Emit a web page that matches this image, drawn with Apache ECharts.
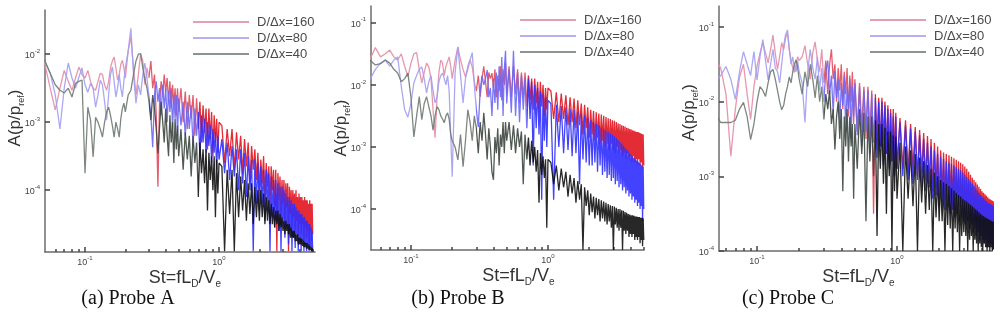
<!DOCTYPE html>
<html>
<head>
<meta charset="utf-8">
<script src="https://cdn.jsdelivr.net/npm/echarts@6/dist/echarts.min.js"></script>
<style>
  html, body { margin: 0; padding: 0; background: #fff; }
  #chart { width: 1000px; height: 314px; }
</style>
</head>
<body>
<div id="chart"></div>
<script>
// Strouhal number bins, shared by every spectrum
var st = [
  0.05,0.055,0.06,0.065,0.07,0.075,0.08,0.085,0.09,0.095,
  0.1,0.105,0.11,0.115,0.12,0.125,0.13,0.135,0.14,0.145,
  0.15,0.155,0.16,0.165,0.17,0.175,0.18,0.185,0.19,0.195,0.2,
  0.21,0.22,0.23,0.24,0.25,0.26,0.27,0.28,0.29,0.3,
  0.31,0.32,0.33,0.34,0.35,0.36,0.37,0.38,0.39,0.4,
  0.41,0.42,0.43,0.44,0.45,0.46,0.47,0.48,0.49,0.5,
  0.52,0.54,0.56,0.58,0.6,0.62,0.64,0.66,0.68,0.7,
  0.72,0.74,0.76,0.78,0.8,0.82,0.84,0.86,0.88,0.9,
  0.92,0.94,0.96,0.98,1.0,
  1.05,1.1,1.15,1.2,1.25,1.3,1.35,1.4,1.45,1.5,
  1.55,1.6,1.65,1.7,1.75,1.8,1.85,1.9,1.95,2.0,
  2.05,2.1,2.15,2.2,2.25,2.3,2.35,2.4,2.45,2.5,
  2.55,2.6,2.65,2.7,2.75,2.8,2.85,2.9,2.95,3.0,
  3.05,3.1,3.15,3.2,3.25,3.3,3.35,3.4,3.45,3.5,
  3.55,3.6,3.65,3.7,3.75,3.8,3.85,3.9,3.95,4.0,
  4.05,4.1,4.15,4.2,4.25,4.3,4.35,4.4,4.45,4.5,
  4.55,4.6,4.65,4.7,4.75,4.8,4.85,4.9,4.95,5.0
];

// log10 of A(p/p_ref)

// (a) Probe A
var probeA_160 = [
  -2.13,-2.5,-2.82,-2.5,-2.24,-2.4,-2.53,-2.35,-2.19,-2.3,
  -2.35,-2.24,-2.4,-2.5,-2.53,-2.4,-2.28,-2.3,-2.45,-2.53,
  -2.4,-2.2,-2.1,-2.04,-2.2,-2.38,-2.3,-2.15,-2.09,-2.2,-2.35,
  -1.95,-1.75,-2.2,-2.6,-2.3,-2.0,-2.1,-2.45,-2.2,-2.35,
  -2.1,-2.5,-2.3,-2.9,-3.95,-2.7,-2.4,-2.6,-2.3,-2.55,
  -2.35,-2.7,-2.4,-2.8,-2.45,-2.75,-2.5,-2.9,-2.5,-2.85,
  -2.5,-3.0,-2.55,-3.1,-2.6,-2.95,-2.6,-3.2,-2.65,-3.1,
  -2.7,-3.3,-2.75,-3.15,-2.8,-3.4,-2.8,-3.25,-2.85,-3.5,
  -2.9,-3.3,-2.95,-3.45,-3.0,
  -3.05,-3.6,-3.1,-3.5,-3.1,-3.7,-3.15,-3.55,-3.2,-3.75,
  -3.25,-3.65,-3.3,-3.9,-3.35,-3.7,-3.4,-3.85,-3.45,-4.0,
  -3.55,-3.9,-3.5,-4.1,-3.6,-3.95,-3.65,-4.2,-3.65,-4.0,
  -3.7,-4.3,-3.7,-4.9,-3.75,-4.15,-3.8,-4.4,-3.85,-4.2,
  -3.85,-4.5,-3.9,-4.25,-3.9,-4.9,-3.95,-4.35,-4.0,-4.55,
  -4.0,-4.4,-4.05,-4.6,-4.0,-4.45,-4.1,-4.7,-4.05,-4.5,
  -4.1,-4.65,-4.1,-4.5,-4.15,-4.8,-4.1,-4.55,-4.15,-4.7,
  -4.15,-4.6,-4.2,-4.85,-4.15,-4.6,-4.2,-4.75,-4.2,-4.65
];
var probeA_80 = [
  -2.1,-2.28,-2.6,-3.1,-2.5,-2.13,-2.35,-2.5,-2.34,-2.2,
  -2.45,-2.56,-2.43,-2.5,-2.78,-2.6,-2.38,-2.45,-2.7,-2.97,
  -2.6,-2.3,-2.19,-2.4,-2.63,-2.5,-2.3,-2.5,-2.63,-2.4,-2.2,
  -1.95,-1.62,-2.28,-2.72,-2.45,-2.6,-2.3,-2.13,-2.35,-2.63,
  -2.9,-3.37,-2.6,-2.4,-2.7,-2.5,-2.9,-2.45,-2.8,-2.5,
  -3.0,-2.55,-2.85,-2.5,-3.1,-2.6,-2.95,-2.6,-3.2,-2.65,
  -3.05,-2.7,-3.2,-2.7,-3.1,-2.75,-3.35,-2.8,-3.2,-2.85,
  -3.5,-2.9,-3.3,-2.95,-3.45,-3.0,-3.35,-3.05,-3.6,-3.1,
  -3.45,-3.15,-3.7,-3.2,-3.55,
  -3.25,-3.75,-3.3,-3.85,-3.35,-3.8,-3.4,-4.0,-3.4,-3.9,
  -3.45,-4.1,-3.5,-4.0,-3.55,-4.9,-3.55,-4.2,-3.6,-4.3,
  -3.65,-4.2,-3.7,-4.45,-3.7,-4.3,-3.75,-4.9,-3.8,-4.4,
  -3.85,-4.55,-3.85,-4.4,-3.9,-4.6,-3.95,-4.9,-3.95,-4.5,
  -4.0,-4.7,-4.05,-4.55,-4.1,-4.8,-4.1,-4.6,-4.15,-4.9,
  -4.2,-4.7,-4.2,-4.85,-4.25,-4.65,-4.3,-4.9,-4.3,-4.75,
  -4.35,-4.9,-4.35,-4.75,-4.4,-4.9,-4.4,-4.8,-4.45,-4.9,
  -4.45,-4.8,-4.5,-4.9,-4.5,-4.85,-4.55,-4.9,-4.6,-4.9
];
var probeA_40 = [
  -2.09,-2.28,-2.45,-2.53,-2.57,-2.5,-2.63,-2.43,-2.4,-2.38,
  -3.75,-2.78,-2.97,-3.51,-2.93,-3.0,-3.1,-3.22,-3.0,-2.85,
  -2.78,-2.9,-3.05,-3.22,-3.0,-3.1,-3.22,-2.95,-2.8,-2.72,-2.85,
  -2.6,-2.53,-2.3,-2.1,-2.0,-1.99,-2.2,-2.38,-2.5,-2.7,
  -2.97,-2.6,-2.8,-3.1,-3.46,-3.07,-2.7,-3.0,-3.3,-2.8,
  -3.2,-3.5,-2.9,-3.3,-3.0,-3.6,-2.95,-3.4,-3.05,-3.5,
  -3.1,-3.7,-3.15,-3.55,-3.2,-3.8,-3.2,-3.6,-3.3,-4.1,
  -3.3,-3.75,-3.4,-3.9,-3.4,-4.3,-3.45,-3.85,-3.5,-4.0,
  -3.5,-4.4,-3.55,-4.05,-3.6,
  -3.65,-4.9,-3.7,-4.35,-3.7,-4.9,-3.75,-4.4,-3.8,-4.3,
  -3.85,-4.45,-3.9,-4.35,-3.9,-4.5,-3.95,-4.4,-4.0,-4.45,
  -4.0,-4.4,-4.05,-4.5,-4.1,-4.45,-4.15,-4.5,-4.2,-4.5,
  -4.25,-4.55,-4.3,-4.5,-4.3,-4.6,-4.35,-4.55,-4.4,-4.6,
  -4.45,-4.65,-4.45,-4.6,-4.5,-4.65,-4.5,-4.7,-4.55,-4.7,
  -4.6,-4.7,-4.6,-4.75,-4.65,-4.75,-4.65,-4.8,-4.7,-4.8,
  -4.7,-4.8,-4.72,-4.82,-4.74,-4.84,-4.76,-4.84,-4.78,-4.86,
  -4.78,-4.86,-4.8,-4.88,-4.82,-4.88,-4.84,-4.9,-4.85,-4.9
];

// (b) Probe B
var probeB_160 = [
  -1.6,-1.4,-1.55,-1.5,-1.44,-1.55,-1.6,-1.5,-1.7,-1.87,
  -1.65,-1.5,-1.48,-1.75,-1.97,-1.8,-1.65,-1.71,-1.9,-2.4,
  -2.85,-2.2,-1.8,-1.6,-1.65,-1.85,-1.7,-1.71,-1.55,-1.7,-1.9,
  -1.6,-1.39,-1.6,-1.75,-1.87,-1.75,-1.6,-1.71,-1.95,-2.1,
  -1.85,-2.19,-1.9,-1.7,-1.95,-2.2,-1.8,-1.9,-1.81,-2.05,
  -1.75,-2.2,-1.85,-2.1,-1.7,-2.25,-1.75,-2.0,-1.65,-2.15,
  -1.7,-2.2,-1.7,-2.15,-1.75,-2.3,-1.8,-2.2,-1.8,-2.35,
  -1.85,-2.25,-1.9,-2.4,-1.9,-2.3,-1.95,-2.45,-1.95,-2.35,
  -2.0,-2.5,-2.05,-2.4,-2.05,
  -2.1,-2.55,-2.12,-2.6,-2.14,-2.55,-2.17,-2.65,-2.2,-2.6,
  -2.22,-2.7,-2.25,-2.65,-2.3,-2.8,-2.32,-2.7,-2.36,-2.85,
  -2.4,-2.8,-2.42,-2.9,-2.44,-2.85,-2.46,-2.95,-2.48,-2.9,
  -2.5,-3.0,-2.52,-2.95,-2.54,-3.05,-2.55,-2.95,-2.57,-3.05,
  -2.58,-3.1,-2.6,-3.0,-2.62,-3.1,-2.63,-3.05,-2.65,-3.15,
  -2.66,-3.1,-2.67,-3.2,-2.69,-3.1,-2.7,-3.2,-2.71,-3.15,
  -2.72,-3.25,-2.73,-3.15,-2.74,-3.25,-2.75,-3.2,-2.76,-3.3,
  -2.76,-3.2,-2.77,-3.3,-2.78,-3.25,-2.79,-3.35,-2.8,-3.3
];
var probeB_80 = [
  -1.92,-1.75,-1.65,-1.6,-1.7,-1.6,-1.55,-2.03,-2.4,-2.52,
  -2.3,-1.97,-1.85,-1.75,-1.71,-1.9,-2.13,-1.95,-1.85,-2.1,
  -2.29,-2.2,-1.95,-1.85,-1.81,-1.9,-2.0,-1.85,-2.1,-2.8,-3.48,
  -1.8,-1.39,-1.85,-2.29,-1.9,-1.7,-1.6,-1.48,-2.0,-2.4,
  -2.68,-2.1,-1.85,-2.0,-1.9,-1.76,-2.2,-2.05,-2.5,-1.9,
  -2.29,-1.8,-2.4,-1.7,-2.2,-1.55,-2.5,-1.75,-1.45,-2.3,
  -1.75,-2.45,-1.45,-2.5,-1.8,-2.6,-1.85,-2.4,-1.9,-2.7,
  -1.9,-2.55,-1.95,-3.3,-2.0,-2.7,-2.05,-2.8,-2.1,-3.85,
  -2.15,-2.9,-2.2,-3.0,-2.25,
  -2.3,-3.85,-2.32,-3.0,-2.34,-3.1,-2.36,-3.05,-2.38,-3.15,
  -2.4,-3.1,-2.43,-3.6,-2.46,-3.2,-2.5,-3.25,-2.53,-3.3,
  -2.57,-3.3,-2.6,-3.25,-2.63,-3.4,-2.66,-3.3,-2.69,-3.45,
  -2.72,-3.4,-2.74,-3.5,-2.76,-3.45,-2.78,-3.55,-2.8,-3.5,
  -2.83,-3.6,-2.86,-3.55,-2.89,-3.65,-2.92,-3.6,-2.95,-3.7,
  -2.98,-3.65,-3.01,-3.75,-3.04,-3.7,-3.07,-3.8,-3.1,-3.75,
  -3.13,-3.85,-3.15,-3.8,-3.18,-3.9,-3.2,-3.85,-3.22,-3.95,
  -3.24,-3.9,-3.26,-4.0,-3.28,-3.95,-3.3,-4.2,-3.32,-4.0
];
var probeB_40 = [
  -1.6,-1.68,-1.66,-1.6,-1.65,-1.75,-1.81,-1.95,-1.9,-1.81,
  -2.2,-2.84,-2.5,-2.19,-2.56,-2.3,-2.19,-2.35,-2.5,-2.73,
  -2.5,-2.35,-2.4,-2.5,-2.55,-2.61,-2.5,-2.45,-2.55,-2.8,-2.9,
  -3.0,-3.21,-2.8,-3.32,-2.9,-2.4,-2.6,-2.9,-2.5,-2.7,
  -3.1,-2.6,-2.9,-2.45,-2.8,-3.2,-2.7,-3.0,-3.4,-3.53,
  -2.84,-3.1,-2.7,-3.3,-2.8,-3.0,-2.6,-3.1,-2.6,-2.9,
  -2.6,-3.05,-2.65,-3.1,-2.7,-3.0,-2.75,-3.6,-2.8,-3.2,
  -2.85,-3.3,-2.9,-3.25,-3.0,-3.4,-3.05,-3.9,-3.1,-3.45,
  -3.15,-3.5,-3.2,-4.3,-3.2,
  -3.25,-3.6,-3.3,-3.7,-3.35,-3.65,-3.4,-3.8,-3.45,-3.75,
  -3.5,-3.9,-3.55,-3.85,-3.6,-4.66,-3.65,-3.95,-3.7,-4.1,
  -3.75,-4.05,-3.8,-4.15,-3.82,-4.1,-3.84,-4.2,-3.86,-4.15,
  -3.88,-4.2,-3.9,-4.25,-3.92,-4.2,-3.94,-4.3,-3.95,-4.66,
  -3.96,-4.25,-3.98,-4.3,-4.0,-4.35,-4.0,-4.3,-4.02,-4.66,
  -4.03,-4.35,-4.05,-4.4,-4.06,-4.35,-4.08,-4.45,-4.09,-4.4,
  -4.1,-4.45,-4.1,-4.4,-4.11,-4.5,-4.12,-4.45,-4.12,-4.5,
  -4.13,-4.45,-4.13,-4.55,-4.14,-4.5,-4.14,-4.6,-4.15,-4.5
];

// (c) Probe C
var probeC_160 = [
  -1.44,-1.55,-1.9,-2.73,-2.1,-1.67,-1.5,-1.9,-2.24,-1.8,
  -1.53,-1.35,-1.21,-1.35,-1.48,-1.3,-1.11,-1.35,-1.57,-1.4,
  -1.21,-1.3,-1.15,-1.08,-1.3,-1.45,-1.55,-1.61,-1.5,-1.4,-1.45,
  -1.4,-1.25,-1.5,-1.7,-1.35,-1.2,-1.44,-1.6,-1.3,-1.75,
  -1.45,-1.9,-1.5,-1.3,-1.7,-1.5,-2.0,-1.55,-1.85,-1.5,
  -2.1,-1.6,-1.9,-1.55,-2.2,-1.65,-2.0,-1.6,-2.3,-1.7,
  -2.4,-1.75,-2.35,-1.8,-2.5,-1.8,-2.45,-1.85,-3.5,-1.9,
  -2.55,-1.95,-2.6,-1.95,-2.5,-2.0,-2.7,-2.05,-2.65,-2.1,
  -2.8,-2.1,-2.75,-2.15,-2.9,
  -2.22,-2.9,-2.25,-2.95,-2.3,-2.9,-2.34,-3.0,-2.38,-2.95,
  -2.42,-3.05,-2.46,-3.1,-2.5,-3.2,-2.55,-3.15,-2.6,-3.3,
  -2.65,-3.25,-2.68,-3.3,-2.7,-3.35,-2.72,-3.3,-2.74,-3.4,
  -2.76,-3.35,-2.78,-3.45,-2.8,-3.4,-2.82,-3.5,-2.84,-3.45,
  -2.87,-3.5,-2.9,-3.55,-2.94,-3.5,-2.98,-3.6,-3.02,-3.55,
  -3.05,-3.6,-3.08,-3.65,-3.11,-3.6,-3.14,-3.7,-3.17,-3.65,
  -3.2,-3.7,-3.22,-3.75,-3.24,-3.7,-3.26,-3.8,-3.28,-3.75,
  -3.3,-3.8,-3.31,-3.75,-3.32,-3.85,-3.33,-3.8,-3.35,-3.85
];
var probeC_80 = [
  -1.75,-1.65,-1.53,-1.7,-1.97,-1.6,-1.33,-1.5,-1.65,-1.33,
  -1.71,-1.4,-1.17,-1.45,-1.71,-1.5,-1.3,-1.55,-1.6,-1.75,
  -1.5,-1.25,-1.1,-1.04,-1.3,-1.5,-1.4,-1.55,-1.6,-1.45,-1.6,
  -1.75,-2.28,-1.6,-1.3,-1.55,-1.7,-1.4,-1.85,-1.55,-2.0,
  -1.6,-1.45,-1.9,-1.65,-2.15,-1.6,-1.95,-1.7,-2.3,-1.75,
  -2.05,-1.65,-2.4,-1.8,-2.1,-1.7,-2.5,-1.8,-2.2,-1.75,
  -2.45,-1.8,-2.6,-1.85,-2.4,-1.85,-2.7,-1.9,-2.55,-1.95,
  -2.75,-2.0,-2.6,-2.0,-2.85,-2.05,-2.7,-2.1,-2.9,-2.15,
  -2.8,-2.2,-3.0,-2.2,-2.9,
  -2.28,-3.0,-2.32,-3.05,-2.36,-3.1,-2.4,-3.05,-2.45,-3.15,
  -2.5,-3.2,-2.55,-3.15,-2.6,-3.3,-2.65,-3.25,-2.7,-3.4,
  -2.74,-3.35,-2.77,-3.45,-2.8,-3.4,-2.82,-3.5,-2.84,-3.45,
  -2.86,-3.55,-2.88,-3.5,-2.9,-3.6,-2.92,-3.55,-2.95,-3.6,
  -2.98,-3.65,-3.01,-3.6,-3.04,-3.7,-3.07,-3.65,-3.1,-3.75,
  -3.13,-3.7,-3.16,-3.8,-3.19,-3.75,-3.22,-3.85,-3.25,-3.8,
  -3.27,-3.85,-3.29,-3.9,-3.31,-3.85,-3.33,-3.95,-3.35,-3.9,
  -3.36,-3.95,-3.37,-3.9,-3.38,-3.98,-3.39,-3.95,-3.4,-3.98
];
var probeC_40 = [
  -2.15,-2.28,-2.28,-2.28,-2.25,-2.1,-2.01,-2.2,-2.51,-2.3,
  -2.0,-1.8,-1.85,-1.93,-1.75,-1.6,-1.57,-1.7,-1.85,-2.0,
  -2.11,-2.05,-1.9,-1.8,-1.67,-1.75,-1.6,-1.5,-1.44,-1.55,-1.7,
  -1.9,-1.6,-1.8,-1.5,-1.7,-1.95,-1.65,-2.0,-1.8,-2.24,
  -1.9,-2.1,-1.85,-2.3,-2.1,-2.64,-2.2,-2.0,-2.5,-2.1,
  -3.2,-2.2,-2.6,-2.1,-2.8,-2.2,-2.6,-2.3,-3.3,-2.3,
  -2.9,-2.1,-2.7,-2.15,-3.6,-2.2,-2.8,-2.2,-3.0,-2.25,
  -3.8,-2.3,-2.9,-2.3,-3.1,-2.35,-3.5,-2.4,-3.0,-2.4,
  -4.0,-2.45,-3.2,-2.47,-3.3,
  -2.55,-4.0,-2.6,-3.3,-2.65,-3.4,-2.7,-4.0,-2.75,-3.35,
  -2.8,-3.5,-2.85,-3.45,-2.9,-4.0,-2.95,-3.55,-3.0,-3.6,
  -3.05,-3.6,-3.08,-4.0,-3.1,-3.65,-3.13,-3.7,-3.16,-4.0,
  -3.19,-3.7,-3.22,-3.75,-3.25,-4.0,-3.27,-3.8,-3.3,-3.75,
  -3.32,-3.8,-3.34,-4.0,-3.36,-3.85,-3.38,-3.8,-3.4,-4.0,
  -3.42,-3.85,-3.44,-3.9,-3.46,-4.0,-3.48,-3.9,-3.5,-3.95,
  -3.52,-4.0,-3.53,-3.9,-3.55,-3.95,-3.56,-4.0,-3.57,-3.95,
  -3.58,-4.0,-3.59,-3.95,-3.6,-4.0,-3.61,-3.98,-3.61,-4.0
];

var seriesNames = ['D/\u0394x=160', 'D/\u0394x=80', 'D/\u0394x=40'];
var captions = ['(a) Probe A', '(b) Probe B', '(c) Probe C'];
var panels = [
  [probeA_160, probeA_80, probeA_40],
  [probeB_160, probeB_80, probeB_40],
  [probeC_160, probeC_80, probeC_40]
];
var xMajorTicks = [0.1, 1];
var xMinorTicks = [0.06, 0.07, 0.08, 0.09, 0.2, 0.3, 0.4, 0.5, 0.6, 0.7, 0.8, 0.9, 2, 3, 4, 5];
var yMajorTicks = [
  [1e-2, 1e-3, 1e-4],
  [1e-1, 1e-2, 1e-3, 1e-4],
  [1e-1, 1e-2, 1e-3, 1e-4]
];

// layout of the three panels
var grids = [
  { left: 45, top: 10, width: 270, height: 242 },
  { left: 371, top: 6, width: 273, height: 244 },
  { left: 719, top: 6, width: 273, height: 245 }
];
var xRange = [[0.0503, 5.2], [0.0511, 5.02], [0.0535, 4.77]];
var yRangeExp = [[-4.91, -1.35], [-4.66, -0.73], [-4.0, -0.72]];
var yNameShift = [26, 0, 32];
var xNameShift = [10, 22, 6];
var captionX = [128, 458, 788];
var legendPos = [[188, 9], [515, 7], [865, 7]];

// sparse low-St part of a trace looks faded, dense high-St part saturated
var colorSteps = [
  ['#e48ca4', '#e04a5c', '#e01420'],
  ['#a29ef2', '#6c66f6', '#2e2eff'],
  ['#6e7a72', '#3c4640', '#101010']
];
var legendColors = ['#e2a0b2', '#b4b0f2', '#8c948e'];

var font = 'Arial, "Liberation Sans", sans-serif';

var supLabel = function (v) {
  var e = Math.round(Math.log10(v));
  return '{b|10}{s|' + e + '}';
};
var supRich = {
  b: { fontSize: 9, color: '#444', fontFamily: font, lineHeight: 12, verticalAlign: 'bottom' },
  s: { fontSize: 6, color: '#444', fontFamily: font, lineHeight: 12, verticalAlign: 'top' }
};

var xAxes = [], yAxes = [], series = [], legends = [], graphics = [], visualMaps = [];

grids.forEach(function (g, p) {
  xAxes.push({
    type: 'log', gridIndex: p, position: 'bottom',
    min: xRange[p][0], max: xRange[p][1],
    axisLine: { lineStyle: { color: '#6c6c6c', width: 1.5 } },
    axisTick: { inside: true, length: 5, customValues: xMajorTicks, lineStyle: { color: '#444', width: 1.5 } },
    axisLabel: { customValues: xMajorTicks, formatter: supLabel, rich: supRich, margin: 3 },
    splitLine: { show: false },
    name: '{t|St=fL}{s|D}{t|/V}{s|e}',
    nameLocation: 'middle', nameGap: 17, nameMoveOverlap: false,
    nameTextStyle: {
      padding: [0, 0, 0, xNameShift[p]],
      rich: {
        t: { fontSize: 18, color: '#333', fontFamily: font, lineHeight: 20, verticalAlign: 'top' },
        s: { fontSize: 10, color: '#333', fontFamily: font, lineHeight: 20, verticalAlign: 'bottom' }
      }
    }
  });
  xAxes.push({
    type: 'log', gridIndex: p, position: 'bottom',
    min: xRange[p][0], max: xRange[p][1],
    axisLine: { show: false },
    axisTick: { inside: true, length: 3, customValues: xMinorTicks, lineStyle: { color: '#444', width: 1.5 } },
    axisLabel: { show: false },
    splitLine: { show: false }
  });
  yAxes.push({
    type: 'log', gridIndex: p,
    min: Math.pow(10, yRangeExp[p][0]), max: Math.pow(10, yRangeExp[p][1]),
    axisLine: { lineStyle: { color: '#6c6c6c', width: 1.5 } },
    axisTick: { inside: true, length: 5, customValues: yMajorTicks[p], lineStyle: { color: '#444', width: 1.5 } },
    axisLabel: { customValues: yMajorTicks[p], formatter: supLabel, rich: supRich, margin: 5 },
    splitLine: { show: false },
    name: '{t|A(p/p}{s|ref}{t|)}',
    nameLocation: 'middle', nameGap: 19, nameRotate: 90, nameMoveOverlap: false,
    nameTextStyle: {
      padding: [0, 0, 0, yNameShift[p]],
      rich: {
        t: { fontSize: 17, color: '#333', fontFamily: font, lineHeight: 19, verticalAlign: 'top' },
        s: { fontSize: 9, color: '#333', fontFamily: font, lineHeight: 19, verticalAlign: 'bottom' }
      }
    }
  });

  panels[p].forEach(function (vals, k) {
    visualMaps.push({
      type: 'piecewise', show: false,
      seriesIndex: series.length, dimension: 0,
      pieces: [
        { lt: 0.3, color: colorSteps[k][0] },
        { gte: 0.3, lt: 0.7, color: colorSteps[k][1] },
        { gte: 0.7, color: colorSteps[k][2] }
      ]
    });
    series.push({
      type: 'line',
      name: seriesNames[k],
      xAxisIndex: p * 2, yAxisIndex: p,
      data: st.map(function (x, i) { return [x, Math.pow(10, vals[i])]; }),
      symbol: 'none',
      clip: true,
      silent: true,
      lineStyle: { width: 1.3, opacity: 0.9 }
    });
  });

  legends.push({
    orient: 'vertical',
    left: legendPos[p][0], top: legendPos[p][1],
    selectedMode: false,
    icon: 'rect', itemWidth: 56, itemHeight: 2, itemGap: 0,
    textStyle: { fontSize: 13, color: '#4a4a4a', fontFamily: font, lineHeight: 16, padding: [0, 0, 0, 3] },
    data: seriesNames.map(function (n, k) {
      return { name: n, itemStyle: { color: legendColors[k] } };
    })
  });

  graphics.push({
    type: 'text', x: captionX[p], y: 289,
    style: {
      text: captions[p], textAlign: 'center',
      font: '20px "Times New Roman", "Liberation Serif", serif', fill: '#111'
    }
  });
});

var chart = echarts.init(document.getElementById('chart'));
chart.setOption({
  animation: false,
  backgroundColor: '#fff',
  grid: grids,
  xAxis: xAxes,
  yAxis: yAxes,
  visualMap: visualMaps,
  legend: legends,
  series: series,
  graphic: graphics
});
</script>
</body>
</html>
